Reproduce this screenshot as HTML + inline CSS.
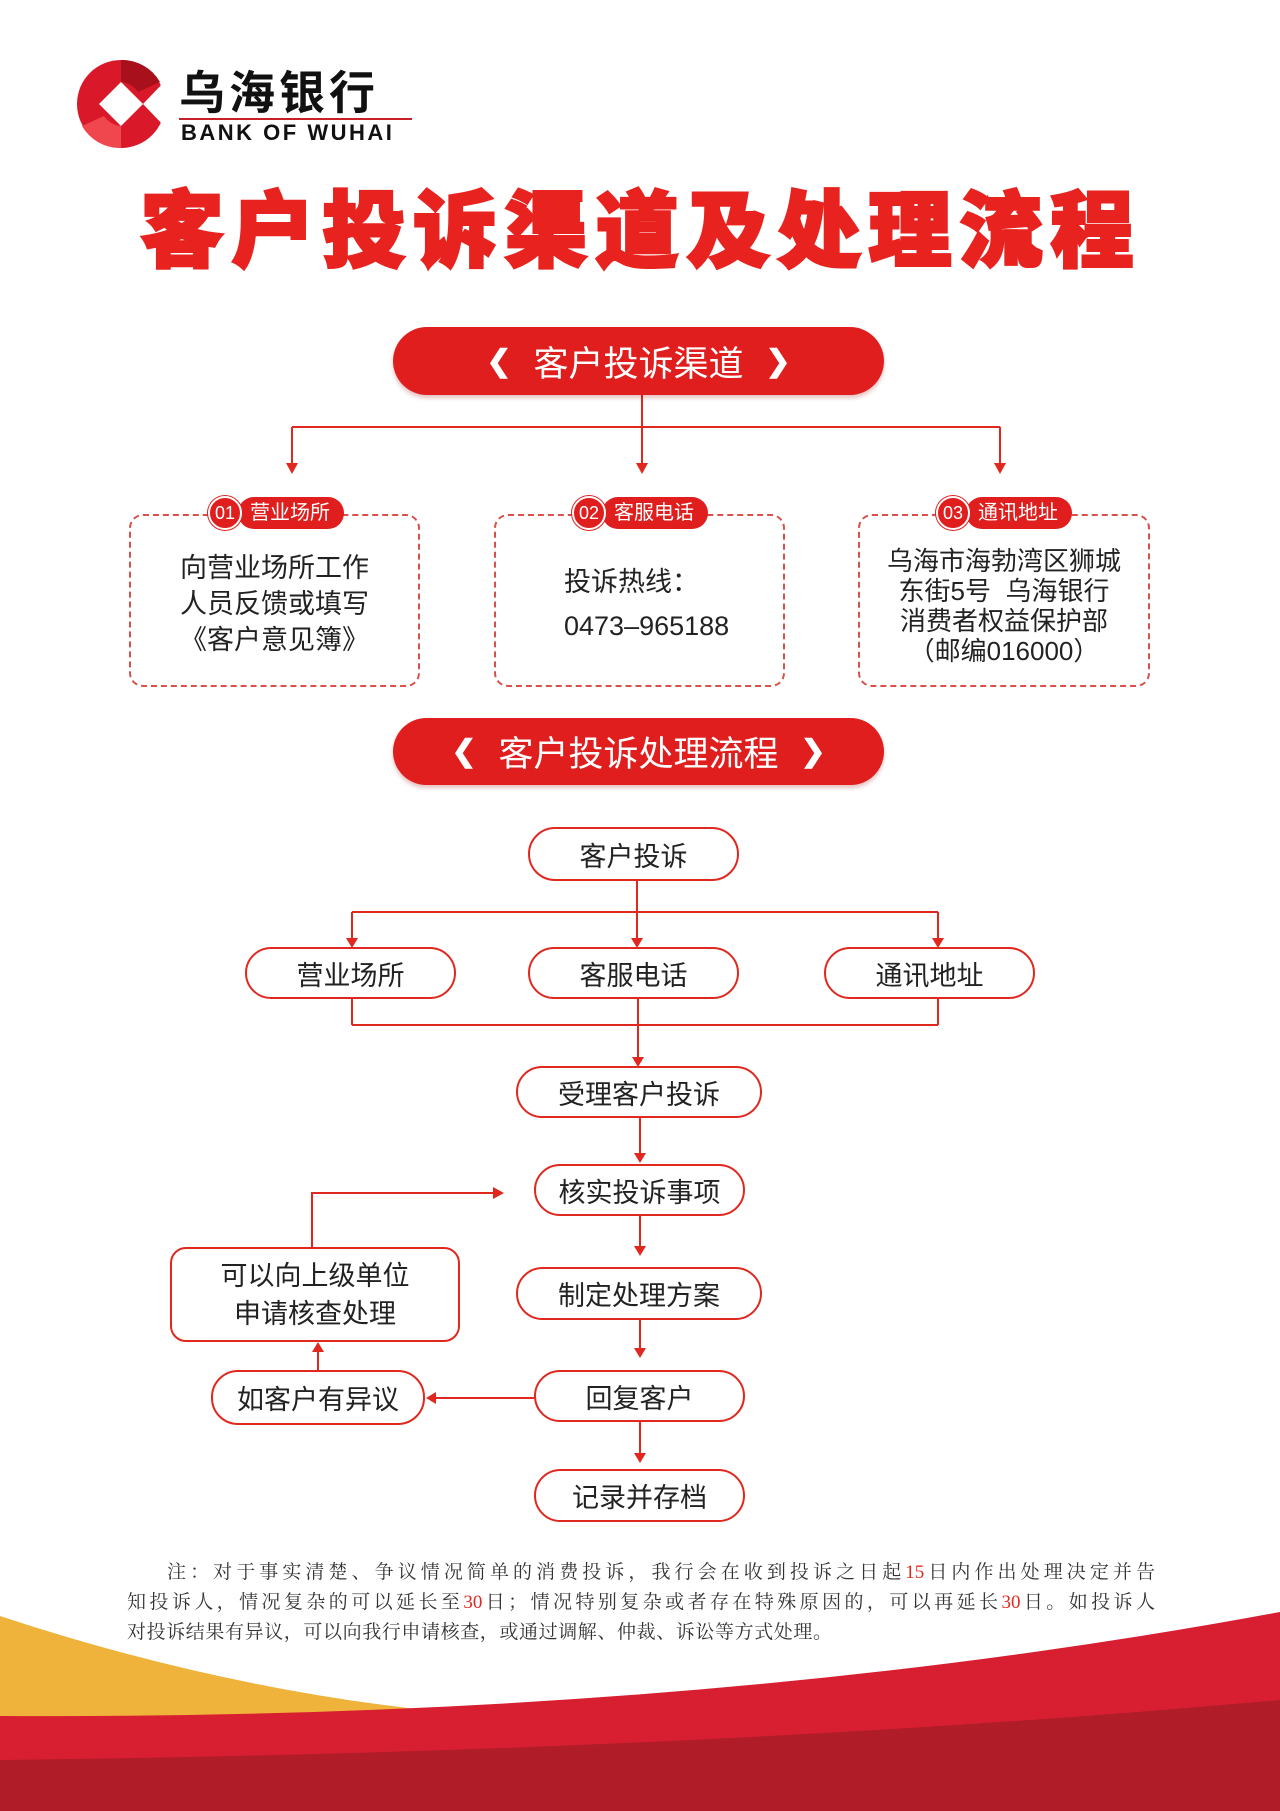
<!DOCTYPE html>
<html><head><meta charset="utf-8">
<style>
*{margin:0;padding:0;box-sizing:border-box}
body{width:1280px;height:1811px;position:relative;background:#fff;overflow:hidden;font-family:"Liberation Sans","Noto Sans CJK SC",sans-serif;color:#2a2a2a}
.a{position:absolute}
.banner{position:absolute;left:393px;width:491px;background:#e01e1e;border-radius:34px;color:#fff;font-size:35px;display:flex;align-items:center;justify-content:center;gap:22px;box-shadow:0 3px 4px rgba(150,0,0,.25)}
.banner .ch{font-weight:bold;font-size:30px}
.dbox{position:absolute;top:514px;height:173px;border:2px dashed #d8504a;border-radius:14px;text-align:center;font-size:27px;line-height:36px;color:#222}
.tag{position:absolute;top:497px;height:32px;display:flex;align-items:center}
.tag .n{width:34px;height:34px;border-radius:50%;background:#e01e1e;border:2px solid #fff;box-shadow:0 0 0 1px #e01e1e;color:#fff;font-size:18px;display:flex;align-items:center;justify-content:center;z-index:2}
.tag .t{background:#e01e1e;color:#fff;font-size:20px;height:32px;line-height:32px;padding:0 14px 0 12px;border-radius:16px;margin-left:-4px}
.node{position:absolute;border:2px solid #e0281f;border-radius:27px;display:flex;align-items:center;justify-content:center;font-size:27px;color:#222;background:#fff}
.note{position:absolute;left:127px;width:1028px;font-family:"Liberation Serif","Noto Serif CJK SC",serif;font-size:19px;color:#333;text-align:justify;text-align-last:justify;height:30px;line-height:30px;white-space:nowrap}
.note b{font-weight:normal;color:#e0281f}
</style></head><body>

<svg class="a" style="left:0;top:0" width="1280" height="1811">
<!-- waves -->
<path d="M0 1616 Q640 1828 1280 1616 L1280 1811 L0 1811 Z" fill="#efb23a"/>
<path d="M0 1716 Q700 1720 1280 1612 L1280 1811 L0 1811 Z" fill="#d81f32"/>
<path d="M0 1760 Q700 1752 1280 1700 L1280 1811 L0 1811 Z" fill="#b01c28"/>
<!-- logo -->
<circle cx="121" cy="104" r="44" fill="#d9182a"/>
<path d="M121 60 A44 44 0 0 1 160 82 L138 92 A22 22 0 0 0 121 82 Z" fill="#a8101c"/>
<path d="M121 148 A44 44 0 0 1 82 126 L104 116 A22 22 0 0 0 121 126 Z" fill="#f0464e"/>
<polygon points="166,80 166,128 143,104" fill="#fff"/>
<polygon points="121,82 143,104 121,126 99,104" fill="#fff"/>
<line x1="179" y1="119" x2="412" y2="119" stroke="#c8202a" stroke-width="2"/>
<!-- top connectors -->
<g stroke="#e0281f" stroke-width="2" fill="none">
<line x1="642" y1="395" x2="642" y2="465"/>
<line x1="292" y1="427" x2="1000" y2="427"/>
<line x1="292" y1="427" x2="292" y2="465"/>
<line x1="1000" y1="427" x2="1000" y2="465"/>
</g>
<g fill="#e0281f">
<polygon points="286,463 298,463 292,474"/>
<polygon points="636,463 648,463 642,474"/>
<polygon points="994,463 1006,463 1000,474"/>
</g>
<!-- flow connectors -->
<g stroke="#e0281f" stroke-width="2" fill="none">
<line x1="637" y1="881" x2="637" y2="940"/>
<line x1="352" y1="912" x2="938" y2="912"/>
<line x1="352" y1="912" x2="352" y2="940"/>
<line x1="938" y1="912" x2="938" y2="940"/>
<line x1="352" y1="999" x2="352" y2="1025"/>
<line x1="938" y1="999" x2="938" y2="1025"/>
<line x1="352" y1="1025" x2="938" y2="1025"/>
<line x1="638" y1="999" x2="638" y2="1060"/>
<line x1="640" y1="1118" x2="640" y2="1155"/>
<line x1="640" y1="1216" x2="640" y2="1248"/>
<line x1="640" y1="1320" x2="640" y2="1350"/>
<line x1="640" y1="1422" x2="640" y2="1455"/>
<line x1="534" y1="1398" x2="434" y2="1398"/>
<line x1="318" y1="1370" x2="318" y2="1350"/>
<polyline points="312,1247 312,1193 495,1193"/>
</g>
<g fill="#e0281f">
<polygon points="631,938 643,938 637,948"/>
<polygon points="346,938 358,938 352,948"/>
<polygon points="932,938 944,938 938,948"/>
<polygon points="632,1057 644,1057 638,1067"/>
<polygon points="634,1153 646,1153 640,1163"/>
<polygon points="634,1246 646,1246 640,1256"/>
<polygon points="634,1348 646,1348 640,1358"/>
<polygon points="634,1453 646,1453 640,1463"/>
<polygon points="436,1392 436,1404 426,1398"/>
<polygon points="312,1352 324,1352 318,1342"/>
<polygon points="493,1187 493,1199 504,1193"/>
</g>
</svg>

<div class="a" style="left:179px;top:68px;font-size:46px;font-weight:bold;letter-spacing:4px;color:#111;line-height:50px">乌海银行</div>
<div class="a" style="left:181px;top:121px;font-size:22px;font-weight:bold;letter-spacing:2.5px;color:#111;line-height:24px">BANK OF WUHAI</div>

<div class="a" style="left:134px;top:184px;width:1014px;text-align:center;font-size:83px;font-weight:900;color:#e8231f;line-height:96px;letter-spacing:8px;-webkit-text-stroke:3px #e8231f">客户投诉渠道及处理流程</div>

<div class="banner" style="top:327px;height:68px"><span class="ch">❮</span><span>客户投诉渠道</span><span class="ch">❯</span></div>

<div class="dbox" style="left:129px;width:291px;padding-top:34px">向营业场所工作<br>人员反馈或填写<br>《客户意见簿》</div>
<div class="dbox" style="left:494px;width:291px;padding-top:44px;text-align:left;padding-left:68px;line-height:44px">投诉热线：<br>0473–965188</div>
<div class="dbox" style="left:858px;width:292px;padding-top:30px;font-size:26px;line-height:30px">乌海市海勃湾区狮城<br>东街5号&nbsp; 乌海银行<br>消费者权益保护部<br>（邮编016000）</div>

<div class="tag" style="left:208px"><span class="n">01</span><span class="t">营业场所</span></div>
<div class="tag" style="left:572px"><span class="n">02</span><span class="t">客服电话</span></div>
<div class="tag" style="left:936px"><span class="n">03</span><span class="t">通讯地址</span></div>

<div class="banner" style="top:718px;height:67px"><span class="ch">❮</span><span>客户投诉处理流程</span><span class="ch">❯</span></div>

<div class="node" style="left:528px;top:827px;width:211px;height:54px">客户投诉</div>
<div class="node" style="left:245px;top:947px;width:211px;height:52px">营业场所</div>
<div class="node" style="left:528px;top:947px;width:211px;height:52px">客服电话</div>
<div class="node" style="left:824px;top:947px;width:211px;height:52px">通讯地址</div>
<div class="node" style="left:516px;top:1066px;width:246px;height:52px">受理客户投诉</div>
<div class="node" style="left:534px;top:1164px;width:211px;height:52px">核实投诉事项</div>
<div class="node" style="left:516px;top:1267px;width:246px;height:53px">制定处理方案</div>
<div class="node" style="left:534px;top:1370px;width:211px;height:52px">回复客户</div>
<div class="node" style="left:534px;top:1469px;width:211px;height:53px">记录并存档</div>
<div class="node" style="left:211px;top:1370px;width:214px;height:55px">如客户有异议</div>
<div class="node" style="left:170px;top:1247px;width:290px;height:95px;border-radius:16px;line-height:38px;text-align:center">可以向上级单位<br>申请核查处理</div>

<div class="note" style="top:1558px;left:167px;width:988px">注：对于事实清楚、争议情况简单的消费投诉，我行会在收到投诉之日起<b>15</b>日内作出处理决定并告</div>
<div class="note" style="top:1588px">知投诉人，情况复杂的可以延长至<b>30</b>日；情况特别复杂或者存在特殊原因的，可以再延长<b>30</b>日。如投诉人</div>
<div class="note" style="top:1618px;text-align-last:left;letter-spacing:0.6px">对投诉结果有异议，可以向我行申请核查，或通过调解、仲裁、诉讼等方式处理。</div>

</body></html>
